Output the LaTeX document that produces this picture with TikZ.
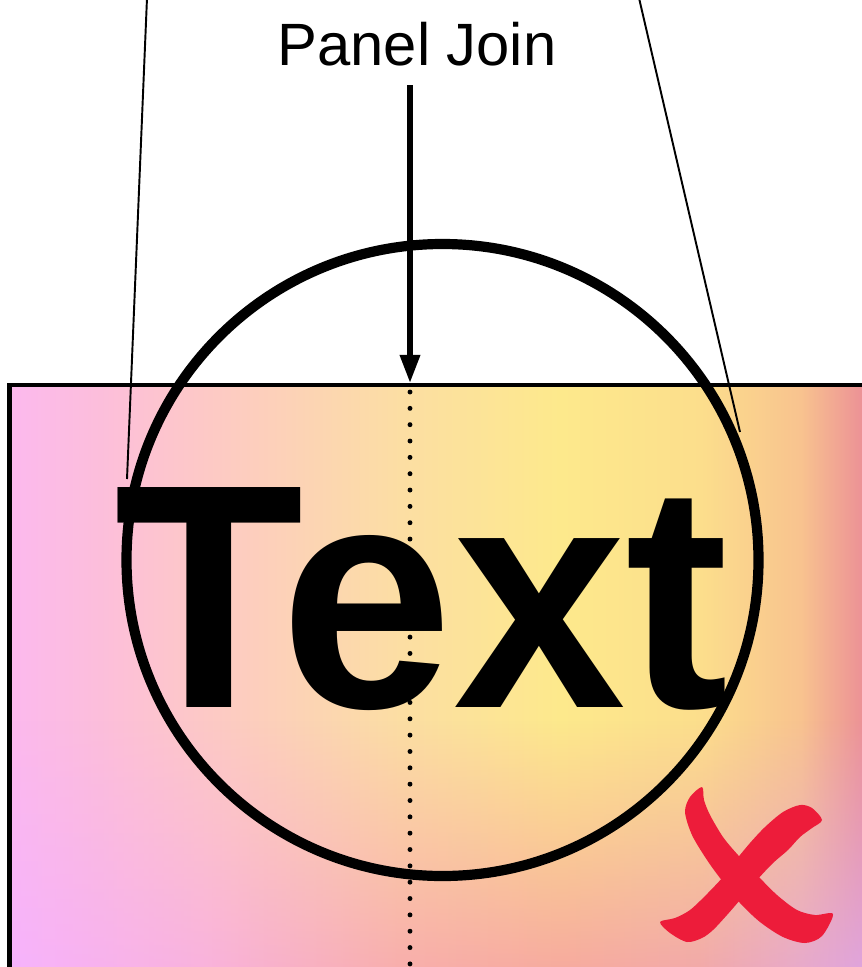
\documentclass[tikz,border=0pt]{standalone}
\usepackage{fontspec}
\setmainfont{Liberation Sans}
\usetikzlibrary{arrows.meta, fadings, positioning}

\definecolor{crossred}{RGB}{237,28,58}

\pgfdeclarehorizontalshading{panel top}{100bp}{
    rgb(0bp)=(.988,.725,.933);
    rgb(25bp)=(.988,.725,.933);
    rgb(30bp)=(.990,.745,.860);
    rgb(35.7bp)=(.992,.785,.780);
    rgb(46.9bp)=(.988,.870,.640);
    rgb(55.9bp)=(.992,.914,.549);
    rgb(63.8bp)=(.988,.871,.549);
    rgb(69.4bp)=(.973,.765,.560);
    rgb(72.9bp)=(.925,.569,.588);
    rgb(100bp)=(.925,.569,.588)
}
\pgfdeclarehorizontalshading{panel bottom}{100bp}{
    rgb(0bp)=(.965,.698,1);
    rgb(25bp)=(.965,.698,1);
    rgb(35.7bp)=(.975,.690,.880);
    rgb(46.9bp)=(.973,.660,.680);
    rgb(55.9bp)=(.965,.640,.630);
    rgb(63.8bp)=(.945,.640,.680);
    rgb(69.4bp)=(.902,.655,.824);
    rgb(72.9bp)=(.871,.655,.902);
    rgb(100bp)=(.871,.655,.902)
}
\tikzfading[name=panel fade, top color=transparent!100, middle color=transparent!30, bottom color=transparent!0]

\tikzset{
    panel/.style={line width=2.8pt},
    ring/.style={line width=5.8pt},
    join line/.style={line width=2.8pt, line cap=round, dash pattern=on 0pt off 9.3pt},
    pointer/.style={line width=1.1pt},
}

\begin{document}
\begin{tikzpicture}[x=0.02cm, y=-0.02cm]
    \useasboundingbox (0,0) rectangle (862,967);
    \clip (0,0) rectangle (862,967);

    % panel background
    \shade[shading=panel top] (9.5,385) rectangle (900,1000);
    \shade[shading=panel bottom, path fading=panel fade] (9.5,720) rectangle (900,1000);

    \node[font=\bfseries\fontsize{182}{182}\selectfont, inner sep=0pt, anchor=base west]
        (word) at (114,707) {\scalebox{0.97}[1]{Text}};

    \draw[ring] (442.5,560) circle[radius=316];

    \coordinate (jointop) at (410,383);
    \coordinate (joinbot) at (410,975);
    \draw[join line] (jointop) ++(0,9) -- (joinbot);

    % red cross
    \fill[crossred] plot [smooth cycle, tension=0.5] coordinates {
        (702,787) (690,797) (685,812) (692,835) (707,860) (723,882)
        (740,903) (760,922) (783,937) (805,943) (822,936) (833,914)
        (815,915) (797,910) (777,895) (757,875) (738,855) (723,837)
        (710,815) (704,800)
    };
    \fill[crossred] plot [smooth cycle, tension=0.5] coordinates {
        (822,820) (812,808) (800,805) (783,812) (765,827) (750,843)
        (736,860) (723,877) (706,895) (690,910) (675,918) (660,922)
        (670,933) (687,942) (702,938) (713,930) (727,915) (740,900)
        (757,880) (773,863) (788,850) (800,837) (812,828)
    };

    \coordinate (ptrA) at (147,-2);
    \coordinate (ptrB) at (639,-2);
    \coordinate (endA) at (127,479);
    \coordinate (endB) at (740,432);
    \draw[pointer] (ptrA) -- (endA);
    \draw[pointer] (ptrB) -- (endB);

    \node[font=\fontsize{34}{34}\selectfont, inner sep=0pt, anchor=base]
        (joinlabel) at (417,65) {Panel Join};
    \draw[line width=3.2pt, shorten <=11pt, -{Triangle[length=16pt, width=11pt]}]
        (joinlabel.south -| jointop) -- (jointop);

    \draw[panel] (9.5,385) rectangle (900,1000);
\end{tikzpicture}
\end{document}
